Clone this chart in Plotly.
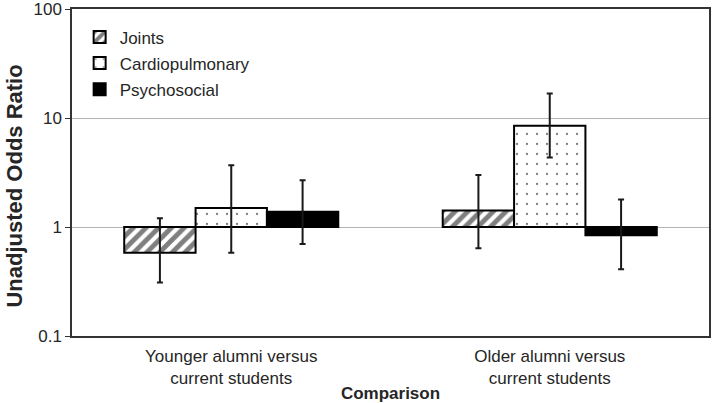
import plotly.graph_objects as go

categories = ["Younger alumni versus<br>current students", "Older alumni versus<br>current students"]
series = ["Joints", "Cardiopulmonary", "Psychosocial"]
odds = {
    "Joints": [0.58, 1.42],
    "Cardiopulmonary": [1.49, 8.5],
    "Psychosocial": [1.38, 0.84],
}
ci_low = {
    "Joints": [0.31, 0.64],
    "Cardiopulmonary": [0.58, 4.35],
    "Psychosocial": [0.70, 0.41],
}
ci_high = {
    "Joints": [1.2, 3.0],
    "Cardiopulmonary": [3.68, 16.8],
    "Psychosocial": [2.68, 1.79],
}
y_ticks = [0.1, 1, 10, 100]
y_tick_labels = ["0.1", "1", "10", "100"]
x_title = "Comparison"
y_title = "Unadjusted Odds Ratio"

styles = {
    "Joints": dict(shape="/", fg="black", bg="white", size=9, solidity=0.55),
    "Cardiopulmonary": dict(shape=".", fg="black", bg="white", size=10, solidity=0.04),
    "Psychosocial": dict(shape="", fg="black", bg="black", size=8, solidity=1),
}

bar_w = 0.224
offsets = [-bar_w, 0, bar_w]
cat_pos = list(range(len(categories)))

fig = go.Figure()
for s, off in zip(series, offsets):
    xs = [c + off for c in cat_pos]
    st = styles[s]
    fig.add_trace(go.Bar(
        x=xs, y=[v - 1 for v in odds[s]], base=[1] * len(xs), width=bar_w,
        name=s, legendgroup=s,
        marker=dict(color=st["bg"], line=dict(color="black", width=2),
                    pattern=dict(shape=st["shape"], fgcolor=st["fg"], bgcolor=st["bg"],
                                 size=st["size"], solidity=st["solidity"])),
        showlegend=True,
    ))
for s, off in zip(series, offsets):
    xs = [c + off for c in cat_pos]
    fig.add_trace(go.Scatter(
        x=xs, y=odds[s], mode="markers", marker=dict(size=1, opacity=0),
        showlegend=False, hoverinfo="skip",
        error_y=dict(type="data", symmetric=False,
                     array=[h - v for h, v in zip(ci_high[s], odds[s])],
                     arrayminus=[v - l for v, l in zip(odds[s], ci_low[s])],
                     color="#1a1a1a", thickness=2, width=3),
    ))

fig.update_layout(
    width=714, height=403,
    margin=dict(l=72, r=5, t=9, b=67),
    paper_bgcolor="white", plot_bgcolor="white",
    font=dict(family="Liberation Sans, Arial, sans-serif", color="#262626", size=17),
    barmode="overlay",
    legend=dict(x=0.012, y=0.968, xanchor="left", yanchor="top",
                bgcolor="rgba(0,0,0,0)", font=dict(size=17),
                itemwidth=30, traceorder="grouped", tracegroupgap=1),
    xaxis=dict(range=[-0.5, 1.5], tickvals=cat_pos, ticktext=categories,
               automargin=False,
               showgrid=False, showline=True, linecolor="#333", linewidth=1.5,
               mirror=True, ticks="outside", ticklen=4, tickcolor="rgba(0,0,0,0)",
               zeroline=False, tickfont=dict(size=17),
               title=dict(text="<b>" + x_title + "</b>", font=dict(size=17), standoff=1)),
    yaxis=dict(type="log", range=[-1, 2], tickvals=y_ticks, ticktext=y_tick_labels,
               automargin=False, ticklabeloverflow="allow",
               showgrid=True, gridcolor="#b4b4b4", gridwidth=1,
               showline=True, linecolor="#333", linewidth=1.5, mirror=True,
               ticks="outside", ticklen=5, tickcolor="#333", tickfont=dict(size=17)),
    annotations=[dict(text="<b>" + y_title + "</b>", textangle=-90,
                      xref="paper", yref="paper", x=-0.0895, y=0.46,
                      xanchor="center", yanchor="middle", showarrow=False,
                      font=dict(size=22, color="#262626"))],
)
fig.write_html("out.html", config={"displayModeBar": False},
               post_script="document.body.style.margin='0';document.body.style.overflow='hidden';")
